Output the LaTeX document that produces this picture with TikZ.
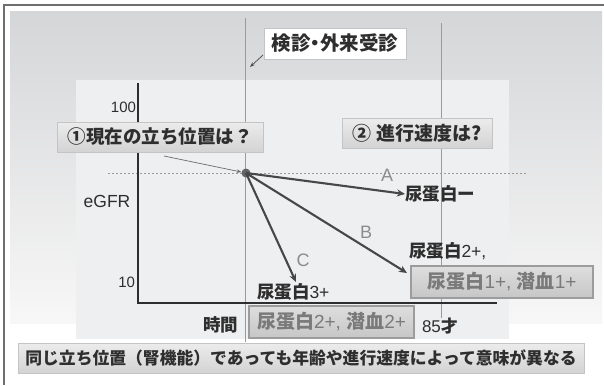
\documentclass[tikz,border=0pt]{standalone}
\usepackage{fontspec}
\newfontfamily\jp{Noto Sans CJK JP}
\newfontfamily\lat{Liberation Sans}
\newcommand{\jpb}{\jp\bfseries}
\usetikzlibrary{arrows.meta}
\definecolor{frame}{HTML}{6E6E6E}
\definecolor{paneltop}{HTML}{D5D6D8}
\definecolor{panelbot}{HTML}{F7F7F7}
\definecolor{inner}{HTML}{EEEFF0}
\definecolor{vline}{HTML}{9A9A9A}
\definecolor{txt}{HTML}{2E2E2E}
\definecolor{boxedge}{HTML}{C4C4C4}
\definecolor{boxtop}{HTML}{ECECEC}
\definecolor{boxbot}{HTML}{D3D3D3}
\definecolor{btntop}{HTML}{DEDEDE}
\definecolor{btnbot}{HTML}{C6C6C6}
\definecolor{btnedge}{HTML}{9C9C9C}
\definecolor{btntxt}{HTML}{7A7A7A}
\definecolor{arrowc}{HTML}{474747}
\definecolor{letter}{HTML}{8C8C8C}
\begin{document}
\begin{tikzpicture}[x=1pt,y=-1pt,
  every node/.style={inner sep=0pt,outer sep=0pt},
  grayline/.style={draw=vline,line width=0.9pt},
  plainbox/.style={draw=boxedge,line width=0.8pt,top color=boxtop,bottom color=boxbot,
    minimum height=30pt,text=txt,font=\jpb\fontsize{18.5}{22}\selectfont},
  whitebox/.style={draw=boxedge,line width=0.8pt,fill=white,minimum height=31pt,
    text=txt,font=\jpb\fontsize{19.5}{22}\selectfont},
  btn/.style={draw=btnedge,line width=1.2pt,top color=btntop,bottom color=btnbot,
    minimum height=32pt,text=btntxt,font=\fontsize{19}{22}\selectfont},
  capbox/.style={draw=boxedge,line width=0.8pt,top color=boxtop,bottom color=boxbot,
    minimum height=30pt,text=txt,font=\jpb\fontsize{16.8}{20}\selectfont},
  lbl/.style={text=txt,font=\fontsize{17.5}{21}\selectfont},
  tick/.style={text=txt,font=\lat\fontsize{15}{18}\selectfont},
  letterlbl/.style={text=letter,font=\lat\fontsize{18}{21}\selectfont},
  trend/.style={draw=arrowc,line width=2.1pt,-{Stealth[length=8pt,width=7pt]}},
  pointer/.style={draw=arrowc,line width=0.7pt,-{Stealth[length=5pt,width=3.5pt]}},
  axis/.style={draw=txt,line width=2.4pt}]
\useasboundingbox (0,0) rectangle (604,385);
\fill[white] (0,0) rectangle (604,385);
% panels
\shade[top color=paneltop,bottom color=panelbot] (10,12) rectangle (602,323);
\fill[inner] (76,80) rectangle (509,339);
% frame
\draw[frame,line width=1.6pt] (4,385) -- (4,5) -- (604,5);
% vertical time lines
\draw[grayline] (245,18) -- (245,342);
\draw[grayline] (441,23) -- (441,318);
% dotted reference line
\draw[vline,line width=0.8pt,dash pattern=on 2pt off 2pt] (108,173) -- (527,173);
% axes
\draw[axis] (138,83) -- (138,303) -- (497,303);
% tick labels
\node[tick,anchor=east] (t100) at (136,107) {100};
\node[tick,anchor=east] (t10) at (135,282) {10};
\node[text=txt,font=\lat\fontsize{17.5}{21}\selectfont] (egfr) at (107,201) {eGFR};
\node[lbl,anchor=east] (jikan) at (238,325) {\jpb 時間};
\node[text=txt,anchor=west,font=\fontsize{17}{20}\selectfont] (age) at (422,326) {{\lat 85}{\jpb 才}};
% boxes
\node[whitebox,minimum width=142pt] (kenshin) at (335,43.5) {検診\kern-5pt・\kern-5pt外来受診};
\node[plainbox,minimum width=206pt] (q1) at (160,137) {①現在の立ち位置は？};
\node[plainbox,minimum width=150pt,font=\jpb\fontsize{19}{22}\selectfont] (q2) at (417,133) {② 進行速度は?};
\node[btn,minimum width=182pt] (btnB) at (502,282) {{\jpb 尿蛋白}{\lat 1+, }{\jpb 潜血}{\lat 1+}};
\node[btn,minimum width=165pt] (btnC) at (331.5,322) {{\jpb 尿蛋白}{\lat 2+, }{\jpb 潜血}{\lat 2+}};
\node[capbox,minimum width=566pt] (cap) at (301,358) {同じ立ち位置（腎機能）であっても年齢や進行速度によって意味が異なる};
% pointers
\coordinate (kpt) at (250,67);
\draw[pointer] (263,55) -- (kpt);
\node[circle,fill=arrowc!85,minimum size=9pt] (dot) at (246,173) {};
\coordinate (q1tail) at (164,156);
\draw[pointer,draw=arrowc!80] (q1tail) -- (dot);
% outcomes
\node[lbl,anchor=west] (resA) at (405,194) {\jpb 尿蛋白ー};
\node[lbl,anchor=west] (resB) at (409,251) {{\jpb 尿蛋白}{\lat 2+,}};
\node[lbl,anchor=west] (resC) at (257,292) {{\jpb 尿蛋白}{\lat 3+}};
\coordinate (tipB) at (407,273);
\coordinate (tipC) at (296,282);
\draw[trend] (dot.center) -- (resA.west);
\draw[trend] (dot.center) -- (tipB);
\draw[trend] (dot.center) -- (tipC);
\node[letterlbl] (la) at (387,175) {A};
\node[letterlbl] (lb) at (366,232) {B};
\node[letterlbl] (lc) at (303,260) {C};
\end{tikzpicture}
\end{document}
